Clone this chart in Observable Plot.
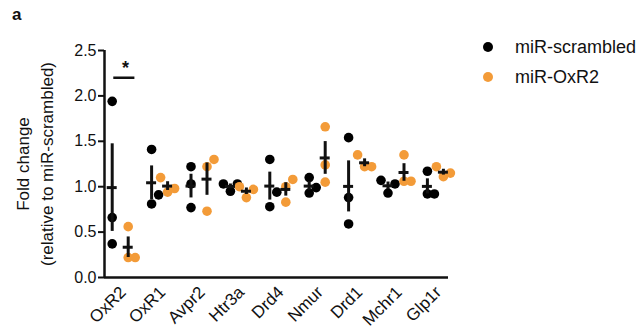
<!DOCTYPE html>
<html><head><meta charset="utf-8">
<script src="https://cdn.jsdelivr.net/npm/d3@7"></script>
<script src="https://cdn.jsdelivr.net/npm/@observablehq/plot@0.6"></script>
<style>
body{margin:0;background:#fff;font-family:"Liberation Sans",Arial,sans-serif;}
#wrap{position:relative;width:644px;height:329px;overflow:hidden;background:#fff;}
#chart{position:absolute;left:0;top:0;}
#panel{position:absolute;left:12px;top:5px;font-weight:bold;font-size:17px;color:#111;}
.leg{position:absolute;left:483px;height:22px;font-size:18px;display:flex;align-items:center;color:#111;white-space:nowrap;}
.leg .d{display:inline-block;width:10px;height:10px;border-radius:50%;margin-right:22px;}
</style></head><body>
<div id="wrap"><div id="chart"></div><div id="panel">a</div><div id="legend"></div></div>
<script>
const categories = ["OxR2","OxR1","Avpr2","Htr3a","Drd4","Nmur","Drd1","Mchr1","Glp1r"];
const seriesNames = ["miR-scrambled","miR-OxR2"];
const seriesColors = ["#000000","#F39B38"];
const scrambled = [[1.94,0.66,0.37],[1.41,0.91,0.81],[1.22,1.03,0.77],[1.03,0.95,1.03],[1.30,0.94,0.78],[1.10,0.93,0.99],[1.54,0.88,0.59],[1.07,0.93,1.03],[1.17,0.92,0.92]];
const oxr2 = [[0.56,0.22,0.22],[1.10,0.94,0.98],[1.30,1.22,0.73],[1.00,0.88,0.97],[1.08,1.00,0.83],[1.66,1.24,1.05],[1.35,1.22,1.22],[1.35,1.06,1.06],[1.22,1.11,1.15]];
const sigPairs = [{category:"OxR2", y:2.2, label:"*"}];
const yTicks = [0,0.5,1,1.5,2,2.5];
const yTitle = "Fold change\n(relative to miR-scrambled)";

// layout (pixels -> category units)
const STEP_PX = 39.4;
const xMin = (104-119.7)/STEP_PX, xMax = (448-119.7)/STEP_PX;
const GOFF = 8/STEP_PX, DODGE = 7/STEP_PX, MW = 5/STEP_PX, THRESH = 0.165;

function swarm(vals){
  const order = vals.map((v,i)=>i).sort((a,b)=>vals[a]-vals[b]);
  const cols=[0,1,-1,2,-2], placed=[], off=new Array(vals.length);
  for(const i of order){
    for(const c of cols){
      if(!placed.some(p=>p.c===c && Math.abs(p.v-vals[i])<THRESH)){placed.push({c,v:vals[i]}); off[i]=c; break;}
    }
  }
  return off;
}
const points = [], stats = [];
[scrambled, oxr2].forEach((ser, s) => {
  ser.forEach((vals, i) => {
    const cx = i + (s===0 ? -GOFF : GOFF);
    const off = swarm(vals);
    vals.forEach((v,k)=>points.push({series:seriesNames[s], value:v, x: cx + off[k]*DODGE}));
    const m = d3.mean(vals), sem = d3.deviation(vals)/Math.sqrt(vals.length);
    stats.push({x:cx, mean:m, lo:m-sem, hi:m+sem});
  });
});
const ci = c => categories.indexOf(c);

const chart = Plot.plot({
  width:644, height:329, marginLeft:104, marginRight:196, marginTop:50, marginBottom:52,
  style:{fontFamily:"'Liberation Sans', Arial, sans-serif", color:"#111", background:"white"},
  x:{domain:[xMin,xMax]},
  y:{domain:[0,2.5]},
  color:{domain:seriesNames, range:seriesColors},
  marks:[
    Plot.axisY({ticks:yTicks, tickFormat:d3.format(".1f"), tickSize:6, tickPadding:2, fontSize:16, strokeWidth:2, label:null}),
    Plot.axisX({ticks:d3.range(categories.length), tickFormat:i=>categories[i], tickRotate:-45, tickSize:0, tickPadding:12, dx:3, fontSize:17, label:null}),
    Plot.ruleY([0], {strokeWidth:2.5}),
    Plot.ruleX([xMin], {strokeWidth:2.5}),
    Plot.dot(points, {x:"x", y:"value", r:4.8, fill:"series", stroke:null}),
    Plot.ruleX(stats, {x:"x", y1:"lo", y2:"hi", strokeWidth:3}),
    Plot.ruleY(stats, {y:"mean", x1:d=>d.x-MW, x2:d=>d.x+MW, strokeWidth:3}),
    Plot.ruleY(sigPairs, {y:"y", x1:d=>ci(d.category)-GOFF+0.04, x2:d=>ci(d.category)+GOFF+0.17, strokeWidth:2.5}),
    Plot.text(sigPairs, {x:d=>ci(d.category)+0.135, y:"y", text:"label", dy:-10, fontSize:18, fontWeight:"bold"}),
    Plot.text([yTitle], {frameAnchor:"left", textAnchor:"middle", rotate:-90, dx:-71, fontSize:17, lineHeight:1.4})
  ]
});
document.getElementById("chart").appendChild(chart);
const leg = document.getElementById("legend");
seriesNames.forEach((n,i)=>{
  const d = document.createElement("div");
  d.className="leg"; d.style.top = (36 + i*30) + "px";
  d.innerHTML = `<span class="d" style="background:${seriesColors[i]}"></span>${n}`;
  leg.appendChild(d);
});
</script>
</body></html>
